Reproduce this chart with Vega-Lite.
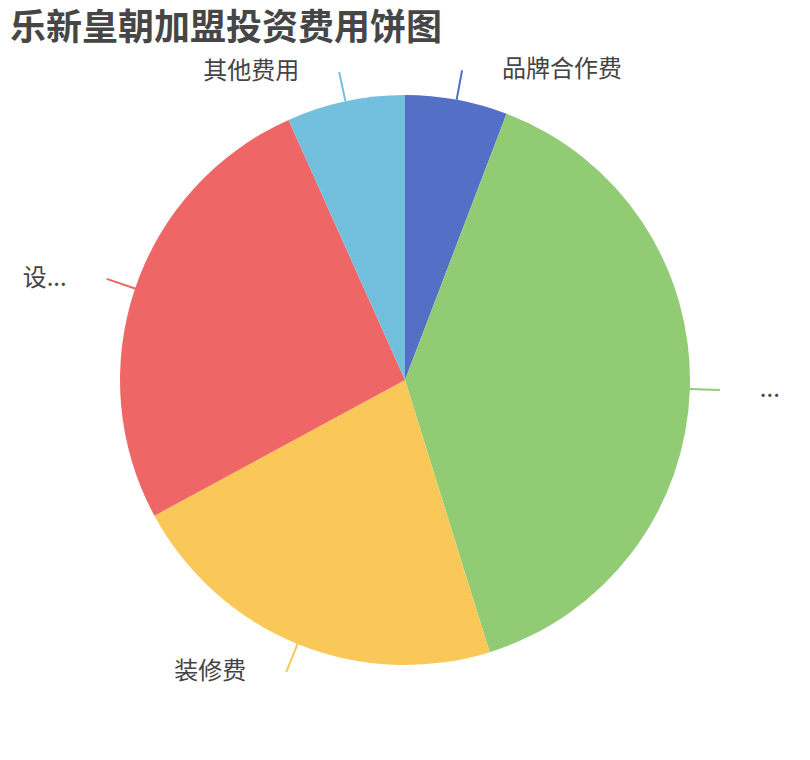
{
  "$schema": "https://vega.github.io/schema/vega-lite/v6.json",
  "width": 810,
  "height": 760,
  "autosize": {"type": "none"},
  "padding": 0,
  "background": "white",
  "title": {
    "text": "乐新皇朝加盟投资费用饼图",
    "anchor": "start",
    "frame": "group",
    "orient": "top",
    "baseline": "top",
    "offset": -48,
    "dx": 10,
    "font": "Noto Sans CJK SC",
    "fontSize": 36,
    "fontWeight": "bold",
    "color": "#464646"
  },
  "data": {
    "values": [
      {"name": "品牌合作费", "value": 5.8, "idx": 1},
      {"name": "...", "value": 39.4, "idx": 2},
      {"name": "装修费", "value": 21.9, "idx": 3},
      {"name": "设...", "value": 26.2, "idx": 4},
      {"name": "其他费用", "value": 6.7, "idx": 5}
    ]
  },
  "encoding": {
    "theta": {"field": "value", "type": "quantitative", "stack": true},
    "order": {"field": "idx", "type": "quantitative"}
  },
  "layer": [
    {
      "mark": {"type": "arc", "radius": 285},
      "encoding": {
        "color": {
          "field": "name",
          "type": "nominal",
          "scale": {
            "domain": ["品牌合作费", "...", "装修费", "设...", "其他费用"],
            "range": ["#5470c6", "#91cc75", "#fac858", "#ee6666", "#73c0de"]
          },
          "legend": null
        }
      }
    },
    {
      "mark": {
        "type": "arc",
        "radius": 315,
        "radius2": 285,
        "padAngle": 3.14,
        "filled": false,
        "strokeWidth": 2
      },
      "encoding": {
        "color": {"field": "name", "type": "nominal", "legend": null}
      }
    },
    {
      "mark": {
        "type": "text",
        "radius": 315,
        "align": "left",
        "baseline": "middle",
        "dx": 40,
        "font": "Noto Sans CJK SC",
        "fontSize": 24,
        "color": "#444"
      },
      "encoding": {
        "detail": {"field": "name", "type": "nominal"},
        "text": {
          "condition": {"test": "datum.name == '品牌合作费' || datum.name == '...'", "field": "name"},
          "value": ""
        }
      }
    },
    {
      "mark": {
        "type": "text",
        "radius": 315,
        "align": "right",
        "baseline": "middle",
        "dx": -40,
        "font": "Noto Sans CJK SC",
        "fontSize": 24,
        "color": "#444"
      },
      "encoding": {
        "detail": {"field": "name", "type": "nominal"},
        "text": {
          "condition": {"test": "datum.name == '装修费' || datum.name == '设...' || datum.name == '其他费用'", "field": "name"},
          "value": ""
        }
      }
    }
  ],
  "config": {"view": {"stroke": null}}
}
